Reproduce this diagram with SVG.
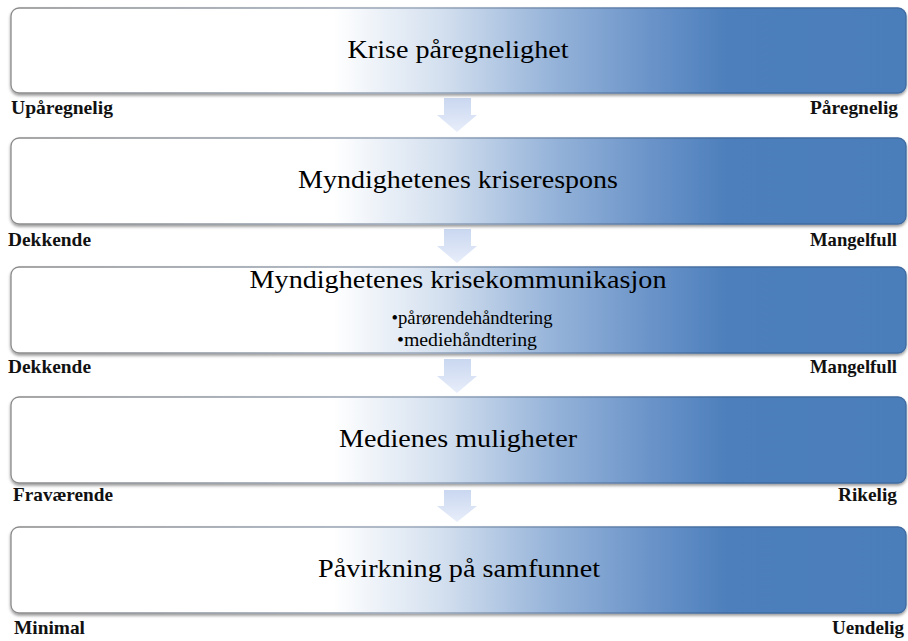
<svg xmlns="http://www.w3.org/2000/svg" width="908" height="641" viewBox="0 0 908 641">
<defs>
<linearGradient id="fill" x1="0" y1="0" x2="1" y2="0">
<stop offset="0" stop-color="#ffffff"/>
<stop offset="0.36" stop-color="#ffffff"/>
<stop offset="0.48" stop-color="#d4e0ef"/>
<stop offset="0.6" stop-color="#98b5da"/>
<stop offset="0.72" stop-color="#6892c8"/>
<stop offset="0.8" stop-color="#4d7fbc"/>
<stop offset="1" stop-color="#4a7ebb"/>
</linearGradient>
<linearGradient id="edge" x1="0" y1="0" x2="1" y2="0">
<stop offset="0" stop-color="#8a8a8a"/>
<stop offset="0.45" stop-color="#9aa8bb"/>
<stop offset="0.8" stop-color="#3f6aa0"/>
<stop offset="1" stop-color="#3f6aa0"/>
</linearGradient>
<linearGradient id="arrowFill" x1="0" y1="0" x2="0" y2="1">
<stop offset="0" stop-color="#c9d7f0"/>
<stop offset="1" stop-color="#e8eefa"/>
</linearGradient>
<filter id="shadow" x="-5%" y="-20%" width="110%" height="150%">
<feDropShadow dx="0" dy="2" stdDeviation="1.5" flood-color="#000" flood-opacity="0.4"/>
</filter>
</defs>
<style>
.box{fill:url(#fill);stroke:url(#edge);stroke-width:1.3;filter:url(#shadow)}
.title{font-family:"Liberation Serif","Times New Roman",serif;font-size:26px;fill:#000;text-anchor:middle}
.sub{font-family:"Liberation Serif","Times New Roman",serif;font-size:19px;fill:#000;text-anchor:middle}
.lbl{font-family:"Liberation Serif","Times New Roman",serif;font-size:19px;font-weight:bold;fill:#111}
.r{text-anchor:end}
.arr{fill:url(#arrowFill);stroke:none}
</style>
<g id="connectors">
<path class="arr" d="M444,98 H471 V115 H477 L457,132 L437,115 H444 Z"/>
<path class="arr" d="M444,229 H471 V246 H477 L457,263 L437,246 H444 Z"/>
<path class="arr" d="M444,359 H471 V376 H477 L457,393 L437,376 H444 Z"/>
<path class="arr" d="M444,490 H471 V506 H477 L457,522 L437,506 H444 Z"/>
</g>
<g id="node1">
<rect class="box" x="11" y="8" width="895" height="85" rx="8"/>
<text class="title" x="458" y="58" textLength="221" lengthAdjust="spacingAndGlyphs">Krise påregnelighet</text>
<text class="lbl" x="11" y="114" textLength="102" lengthAdjust="spacingAndGlyphs">Upåregnelig</text>
<text class="lbl r" x="898" y="114" textLength="88" lengthAdjust="spacingAndGlyphs">Påregnelig</text>
</g>
<g id="node2">
<rect class="box" x="11" y="138" width="895" height="86" rx="8"/>
<text class="title" x="458" y="188" textLength="320" lengthAdjust="spacingAndGlyphs">Myndighetenes kriserespons</text>
<text class="lbl" x="8" y="246" textLength="83" lengthAdjust="spacingAndGlyphs">Dekkende</text>
<text class="lbl r" x="897" y="246" textLength="87" lengthAdjust="spacingAndGlyphs">Mangelfull</text>
</g>
<g id="node3">
<rect class="box" x="11" y="267" width="895" height="86" rx="8"/>
<text class="title" x="458" y="288" textLength="417" lengthAdjust="spacingAndGlyphs">Myndighetenes krisekommunikasjon</text>
<text class="sub" x="472" y="324" textLength="161" lengthAdjust="spacingAndGlyphs">•pårørendehåndtering</text>
<text class="sub" x="467" y="346" textLength="140" lengthAdjust="spacingAndGlyphs">•mediehåndtering</text>
<text class="lbl" x="8" y="373" textLength="83" lengthAdjust="spacingAndGlyphs">Dekkende</text>
<text class="lbl r" x="897" y="373" textLength="87" lengthAdjust="spacingAndGlyphs">Mangelfull</text>
</g>
<g id="node4">
<rect class="box" x="11" y="397" width="895" height="86" rx="8"/>
<text class="title" x="458" y="447" textLength="238" lengthAdjust="spacingAndGlyphs">Medienes muligheter</text>
<text class="lbl" x="13" y="501" textLength="100" lengthAdjust="spacingAndGlyphs">Fraværende</text>
<text class="lbl r" x="897" y="501" textLength="59" lengthAdjust="spacingAndGlyphs">Rikelig</text>
</g>
<g id="node5">
<rect class="box" x="11" y="527" width="895" height="86" rx="8"/>
<text class="title" x="459" y="577" textLength="282" lengthAdjust="spacingAndGlyphs">Påvirkning på samfunnet</text>
<text class="lbl" x="14" y="634" textLength="71" lengthAdjust="spacingAndGlyphs">Minimal</text>
<text class="lbl r" x="904" y="634" textLength="72" lengthAdjust="spacingAndGlyphs">Uendelig</text>
</g>
</svg>
